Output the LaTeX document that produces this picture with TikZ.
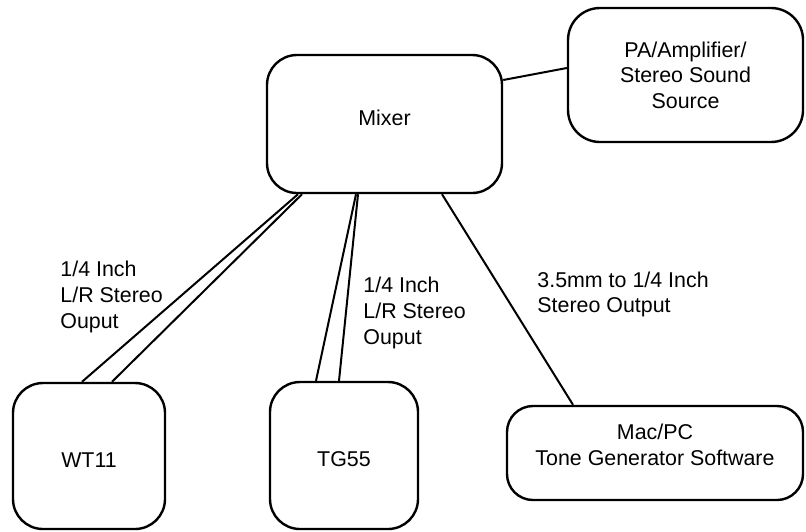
\documentclass[tikz,border=0pt]{standalone}
\usepackage{fontspec}
\setmainfont{Liberation Sans}
\begin{document}
\begin{tikzpicture}[x=0.5pt, y=-0.5pt, font=\fontsize{10.7}{12.8}\selectfont,
    box/.style={draw, line width=1.2pt, rounded corners=15pt, align=center, inner sep=0pt},
    cable/.style={line width=1pt},
    lbl/.style={anchor=west, inner sep=0pt, align=left}]
    \useasboundingbox (0,0) rectangle (806,531);
    \node[box, minimum width=117.5pt, minimum height=69pt, text depth=6pt] (mixer) at (384.5,124) {Mixer};
    \node[box, minimum width=117.5pt, minimum height=67pt, rounded corners=16pt] (pa) at (685.5,75) {PA/Amplifier/\\Stereo Sound\\Source};
    \node[box, minimum width=76pt, minimum height=73pt, text height=11.5pt] (wt) at (89,456) {WT11};
    \node[box, minimum width=74pt, minimum height=73.5pt, text height=11.5pt] (tg) at (344,455.5) {TG55};
    \node[box, minimum width=148pt, minimum height=47pt, rounded corners=13pt, text depth=8pt] (mac) at (655,453) {Mac/PC\\Tone Generator Software};
    \draw[cable]([yshift=22pt]mixer.east)--([yshift=3.5pt]pa.west);
    \draw[cable]([xshift=-43.25pt]mixer.south)--([xshift=-3.5pt]wt.north);
    \draw[cable]([xshift=-41.25pt]mixer.south)--([xshift=11.5pt]wt.north);
    \draw[cable]([xshift=-14.25pt]mixer.south)--([xshift=-14pt]tg.north);
    \draw[cable]([xshift=-13.25pt]mixer.south)--([xshift=-2.5pt]tg.north);
    \draw[cable]([xshift=28.75pt]mixer.south)--([xshift=-41pt]mac.north);
\node[lbl] (wtcable) at (60,297) {1/4 Inch\\L/R Stereo\\Ouput};
\node[lbl] (tgcable) at (363,313) {1/4 Inch\\L/R Stereo\\Ouput};
\node[lbl] (maccable) at (537,294.5) {3.5mm to 1/4 Inch\\Stereo Output};
    \end{tikzpicture}
\end{document}
